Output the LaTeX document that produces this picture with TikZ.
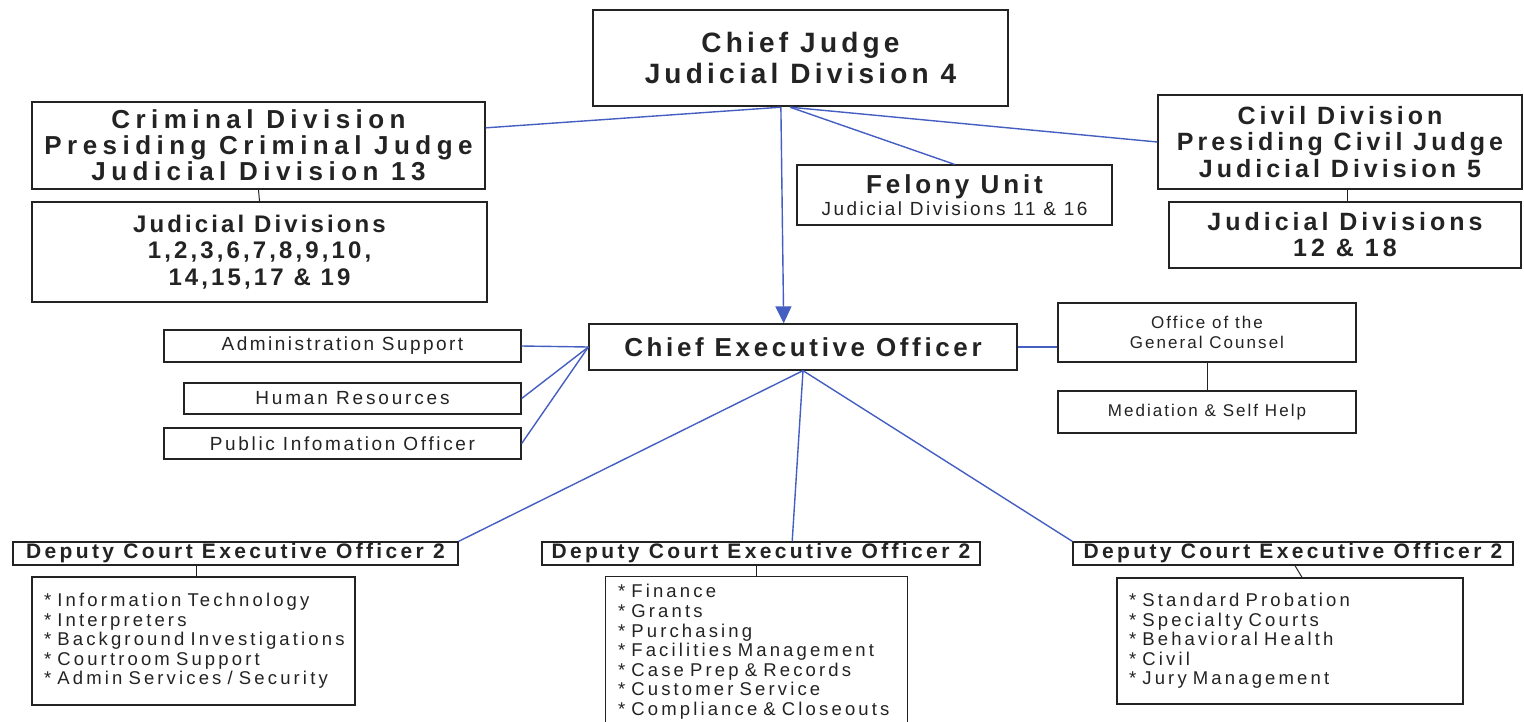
\documentclass[tikz,border=0pt]{standalone}
\usepackage{fontspec}
\setmainfont{Liberation Sans}
\usetikzlibrary{arrows.meta,calc}
\newcommand{\lsp}[1]{\addfontfeature{LetterSpace=#1}}
\definecolor{conn}{RGB}{68,94,194}
\definecolor{ink}{RGB}{35,35,35}
\begin{document}
\begin{tikzpicture}[x=1pt,y=-1pt,
  box/.style={draw=ink, line width=1.3pt, inner sep=0pt, align=center, text=ink},
  link/.style={draw=conn, line width=1.4pt},
  tick/.style={draw=ink, line width=1pt},
  listbox/.style={box, align=left, inner xsep=12pt, font={\fontsize{18.5}{19.6}\selectfont\lsp{17}}}]
\fill[white] (0,0) rectangle (1524,721);
\useasboundingbox (0,0) rectangle (1524,721);

% top level
\node[box, line width=2.4pt, minimum width=415pt, minimum height=96pt,
  font={\fontsize{28}{31}\selectfont\bfseries\lsp{15}}] (chief) at (800.5,58) {Chief Judge\\Judicial Division 4};

\node[box, minimum width=453pt, minimum height=87pt,
  font={\fontsize{26}{26}\selectfont\bfseries\lsp{21}}] (crim) at (258.5,145.5)
  {Criminal Division\\Presiding Criminal Judge\\Judicial Division 13};
\node[box, minimum width=455pt, minimum height=100pt,
  font={\fontsize{24}{26.5}\selectfont\bfseries\lsp{13}}] (crimsub) at (259.5,252)
  {Judicial Divisions\\1,2,3,6,7,8,9,10,\\14,15,17 \& 19};

\node[box, minimum width=364pt, minimum height=94pt,
  font={\fontsize{25}{26.5}\selectfont\bfseries\lsp{16}}] (civil) at (1340,142)
  {Civil Division\\Presiding Civil Judge\\Judicial Division 5};
\node[box, minimum width=352pt, minimum height=66pt,
  font={\fontsize{25}{26}\selectfont\bfseries\lsp{16}}] (civilsub) at (1345,235)
  {Judicial Divisions\\12 \& 18};

\node[box, minimum width=315pt, minimum height=60pt,
  font={\fontsize{19}{22}\selectfont}] (felony) at (954.5,195)
  {{\fontsize{26}{26}\selectfont\bfseries\lsp{15}Felony Unit}\\{\lsp{13}Judicial Divisions 11 \& 16}};

% CEO level
\node[box, minimum width=428pt, minimum height=46pt,
  font={\fontsize{26}{26}\selectfont\bfseries\lsp{14}}] (ceo) at (803,347) {Chief Executive Officer};

\node[box, minimum width=298pt, minimum height=59pt,
  font={\fontsize{17}{20}\selectfont\lsp{12}}] (ogc) at (1207,332.5) {Office of the\\General Counsel};
\node[box, minimum width=298pt, minimum height=42pt,
  font={\fontsize{17}{20}\selectfont\lsp{12}}] (med) at (1207,412) {Mediation \& Self Help};

\node[box, minimum width=357pt, minimum height=32pt,
  font={\fontsize{19}{19}\selectfont\lsp{13}}] (admin) at (342.5,346) {Administration Support};
\node[box, minimum width=337pt, minimum height=31pt,
  font={\fontsize{19}{19}\selectfont\lsp{15}}] (hr) at (352.5,398.5) {Human Resources};
\node[box, minimum width=357pt, minimum height=31pt,
  font={\fontsize{19}{19}\selectfont\lsp{14}}] (pio) at (342.5,443.5) {Public Infomation Officer};

% deputies
\node[box, minimum width=445pt, minimum height=23pt,
  font={\fontsize{21}{21}\selectfont\bfseries\lsp{16}}] (depL) at (235.5,553.5) {Deputy Court Executive Officer 2};
\node[box, minimum width=438pt, minimum height=23pt,
  font={\fontsize{21}{21}\selectfont\bfseries\lsp{16}}] (depM) at (761,553.5) {Deputy Court Executive Officer 2};
\node[box, minimum width=440pt, minimum height=23pt,
  font={\fontsize{21}{21}\selectfont\bfseries\lsp{16}}] (depR) at (1293,553.5) {Deputy Court Executive Officer 2};

\node[listbox, text width=299pt, minimum height=128pt] (subL) at (193.5,641)
  {{*} Information Technology\\{*} Interpreters\\{*} Background Investigations\\{*} Courtroom Support\\{*} Admin Services / Security};
\node[listbox, draw=none, text width=277pt, minimum height=150pt] (subM) at (756.5,652)
  {{*} Finance\\{*} Grants\\{*} Purchasing\\{*} Facilities Management\\{*} Case Prep \& Records\\{*} Customer Service\\{*} Compliance \& Closeouts};
\draw[ink, line width=1.3pt] (subM.south west) -- (subM.north west) -- (subM.north east) -- (subM.south east);
\node[listbox, text width=322pt, minimum height=126pt] (subR) at (1290,641)
  {{*} Standard Probation\\{*} Specialty Courts\\{*} Behavioral Health\\{*} Civil\\{*} Jury Management};

% connectors
\coordinate (cjb) at ($(chief.south west)!0.453!(chief.south east)$);
\coordinate (cjr) at ($(chief.south west)!0.475!(chief.south east)$);
\draw[link] (cjb) -- ($(crim.north east)!0.3!(crim.south east)$);
\draw[link] (cjr) -- (felony.north);
\draw[link] (cjr) -- (civil.west);
\draw[link, -{Triangle[length=17pt,width=16pt]}] (cjb) -- ($(ceo.north west)!0.455!(ceo.north east)$);

\draw[link] (ceo.west) -- (admin.east);
\draw[link] (ceo.west) -- (hr.east);
\draw[link] (ceo.west) -- (pio.east);
\draw[link] (ceo.east) -- (ceo.east -| ogc.west);
\draw[link] (ceo.south) -- (depL.north east);
\draw[link] (ceo.south) -- ($(depM.north west)!0.571!(depM.north east)$);
\draw[link] (ceo.south) -- (depR.north west);

\draw[tick] (crim.south) -- (crimsub.north);
\coordinate (cvt) at ($(civil.south west)!0.52!(civil.south east)$);
\draw[tick] (cvt) -- (cvt |- civilsub.north);
\draw[tick] (ogc.south) -- (med.north);
\draw[tick] ($(subL.north)+(3,0)$) -- ($(subL.north |- depL.south)+(3,0)$);
\draw[tick] (subM.north) -- (subM.north |- depM.south);
\draw[tick] ($(subR.north)+(12,0)$) -- ($(subR.north |- depR.south)+(5,0)$);
\end{tikzpicture}
\end{document}
